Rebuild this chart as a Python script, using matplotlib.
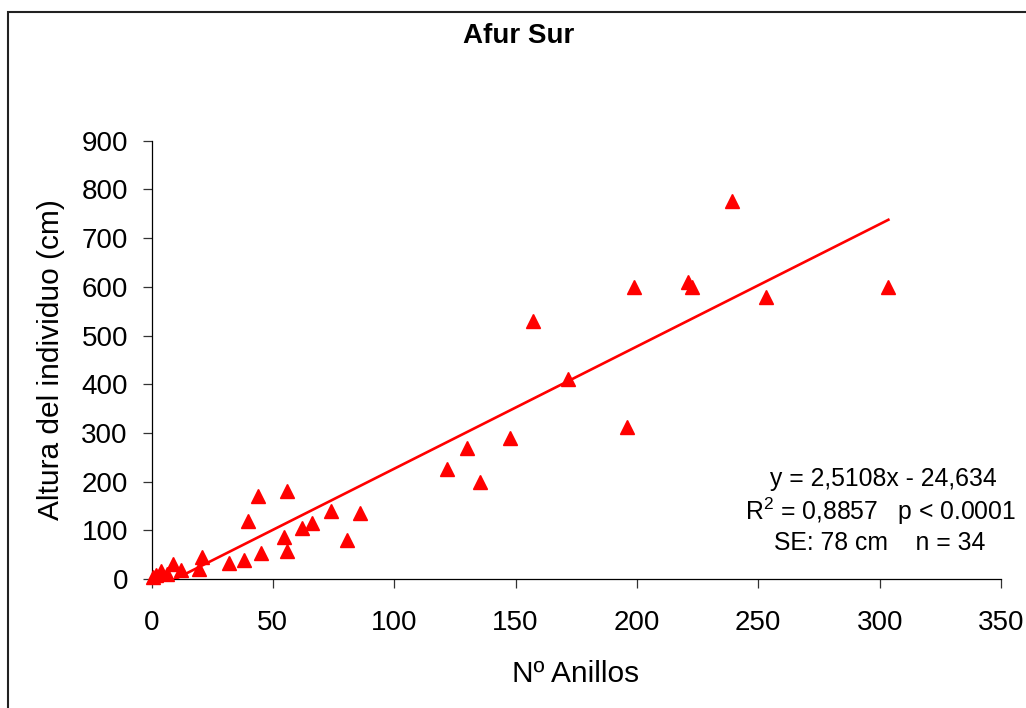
import matplotlib
matplotlib.use("Agg")
import matplotlib.pyplot as plt
from matplotlib.patches import Rectangle
import numpy as np

plt.rcParams['font.family'] = ['Liberation Sans', 'DejaVu Sans']
plt.rcParams['mathtext.fontset'] = 'custom'
plt.rcParams['mathtext.rm'] = 'Liberation Sans'
plt.rcParams['mathtext.it'] = 'Liberation Sans:italic'

# Ring count vs. tree height, Afur Sur site
anillos = [0.7, 1.9, 3.8, 6.3, 8.7, 12.1, 19.7, 20.9,
           32.0, 38.0, 39.9, 44.0, 45.0, 54.7, 55.7, 55.8, 62.1, 66.0, 73.8, 80.7, 85.9,
           121.9, 129.9, 135.4, 147.7, 157.3, 171.5, 196.1, 198.6, 221.2, 222.6, 239.3, 253.2, 303.6]
altura = [4, 8, 16, 11, 30, 18, 21, 45,
          33, 38, 119, 170, 54, 86, 180, 58, 104, 114, 140, 80, 136,
          225, 270, 199, 290, 529, 410, 312, 600, 610, 599, 777, 579, 600]

pendiente = 2.5108
intercepto = -24.634

xticks = [0, 50, 100, 150, 200, 250, 300, 350]
yticks = [0, 100, 200, 300, 400, 500, 600, 700, 800, 900]

W, H = 1026, 708
fig = plt.figure(figsize=(W / 100, H / 100), dpi=100)

# outer frame of the chart area
fig.patches.append(Rectangle((8 / W, -0.05), 1.2, 1 - 11.5 / H + 0.05,
                             transform=fig.transFigure, fill=False,
                             edgecolor='#222222', linewidth=1.5))

ax = fig.add_axes([151.5 / W, 1 - 579 / H, (1001 - 151.5) / W, (579 - 140.7) / H])

ax.plot(anillos, altura, linestyle='none', marker='^', markersize=10.5,
        color='#FF0000', markeredgecolor='#FF0000', zorder=3, clip_on=False)

xs = np.array([min(anillos), max(anillos)])
ax.plot(xs, pendiente * xs + intercepto, color='#FF0000', linewidth=1.9, zorder=4)

ax.set_xlim(0, 350)
ax.set_ylim(0, 900)
ax.set_xticks(xticks)
ax.set_yticks(yticks)
ax.set_xticklabels([str(v) for v in xticks])
ax.set_yticklabels([str(v) for v in yticks])

for side in ('top', 'right'):
    ax.spines[side].set_visible(False)
for side in ('left', 'bottom'):
    ax.spines[side].set_linewidth(0.9)
    ax.spines[side].set_color('black')

ax.tick_params(axis='both', direction='out', length=6.5, width=0.9, color='#333333',
               labelsize=20)
ax.tick_params(axis='x', pad=15.5)
ax.tick_params(axis='y', pad=10.5)

def fy(py):
    return 1 - py / H

fig.text(518.4 / W, fy(43.3), 'Afur Sur', ha='center', va='baseline',
         fontsize=20, fontweight='bold')
fig.text(575.8 / W, fy(681.7), 'Nº Anillos', ha='center', va='baseline', fontsize=21.5)
fig.text(50.8 / W, fy(360), 'Altura del individuo (cm)', ha='center', va='center',
         rotation=90, fontsize=21.5)

fig.text(883 / W, fy(486), 'y = 2,5108x - 24,634', ha='center', va='baseline', fontsize=17.8)
fig.text(880 / W, fy(520), r'R$^{\mathrm{2}}$ = 0,8857   p < 0.0001', ha='center',
         va='baseline', fontsize=17.8)
fig.text(879.5 / W, fy(550), 'SE: 78 cm    n = 34', ha='center', va='baseline', fontsize=17.8)

fig.savefig('out.png', dpi=100, facecolor='white')
